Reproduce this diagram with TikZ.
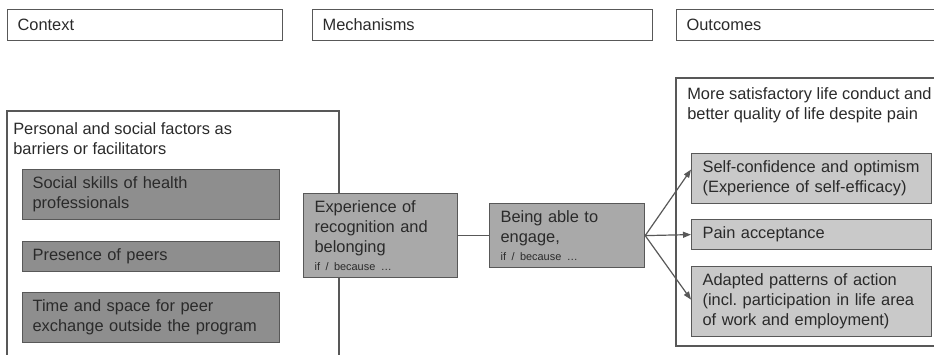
\documentclass[tikz,border=0pt]{standalone}
\usepackage{fontspec}
\setmainfont{Liberation Sans}
\usetikzlibrary{arrows.meta}
\frenchspacing

\definecolor{frame}{HTML}{585858}
\definecolor{darkfill}{HTML}{8E8E8E}
\definecolor{midfill}{HTML}{A9A9A9}
\definecolor{lightfill}{HTML}{C9C9C9}
\definecolor{ink}{HTML}{2A2A2A}

\newcommand{\ifbecause}{\\[-2pt]{\fontsize{8.2}{10}\selectfont if / because …}}

\tikzset{
  headbox/.style={draw=frame, line width=0.9pt, anchor=north west, align=left,
    inner xsep=7.5pt, inner ysep=0pt, minimum height=23.25pt, text=ink,
    font=\fontsize{12.3}{15}\selectfont},
  factor/.style={headbox, fill=darkfill, text width=177.75pt},
  mechanism/.style={headbox, fill=midfill, inner xsep=8.25pt},
  outcome/.style={headbox, fill=lightfill, inner xsep=8.25pt, text width=163.5pt},
  title/.style={anchor=north west, align=left, inner sep=0pt, text=ink,
    font=\fontsize{12.3}{15}\selectfont},
  link/.style={draw=frame, line width=0.9pt},
}

\begin{document}
\begin{tikzpicture}[x=0.75pt, y=-0.75pt]
    \useasboundingbox (0, 0) rectangle (934, 354);
    \clip (0, 0) rectangle (934, 354);
    % column heads
    \node [headbox, text width=191.25pt] (context)    at (7, 9)   {Context};
    \node [headbox, text width=240pt]    (mechanisms) at (312, 9) {Mechanisms};
    \node [headbox, text width=183pt]    (outcomes)   at (676, 9) {Outcomes};
    % context
    \draw [link]  (7, 111) rectangle (339, 380);
    \node [title] (ctxtitle) at (13, 122) {Personal and social factors as\\barriers or facilitators};
    \node [factor, minimum height=37.5pt] (skills) at (22, 169) {Social skills of health\\professionals};
    \node [factor, minimum height=22.5pt] (peers)  at (22, 241) {Presence of peers};
    \node [factor, minimum height=37.5pt] (space)  at (22, 292) {Time and space for peer\\exchange outside the program};
    % mechanisms
    \node [mechanism, text width=99pt, minimum height=63pt]    (recognition) at (303, 193)
          {Experience of\\recognition and\\belonging\ifbecause};
    \node [mechanism, text width=99.75pt, minimum height=48pt] (engage)      at (489, 203)
          {Being able to\\engage,\ifbecause};
    \draw [link]  (recognition) -- (engage);
    % outcomes
    \draw [link]  (676, 78) rectangle (960, 346);
    \node [title] (outtitle) at (687, 87) {More satisfactory life conduct and\\better quality of life despite pain};
    \node [outcome, minimum height=37.5pt] (confidence) at (691, 153) {Self-confidence and optimism\\(Experience of self-efficacy)};
    \node [outcome, minimum height=22.5pt] (acceptance) at (691, 219) {Pain acceptance};
    \node [outcome, minimum height=52.5pt] (action)     at (691, 266)
          {Adapted patterns of action\\(incl. participation in life area\\of work and employment)};
    \draw [link, -{Triangle[length=6pt, width=4.5pt]}] (engage.east) -- ([yshift=6.75pt]confidence.west);
    \draw [link, -{Triangle[length=6pt, width=4.5pt]}] (engage.east) -- (acceptance.west);
    \draw [link, -{Triangle[length=6pt, width=4.5pt]}] (engage.east) -- ([yshift=1.5pt]action.west);
\end{tikzpicture}
\end{document}
